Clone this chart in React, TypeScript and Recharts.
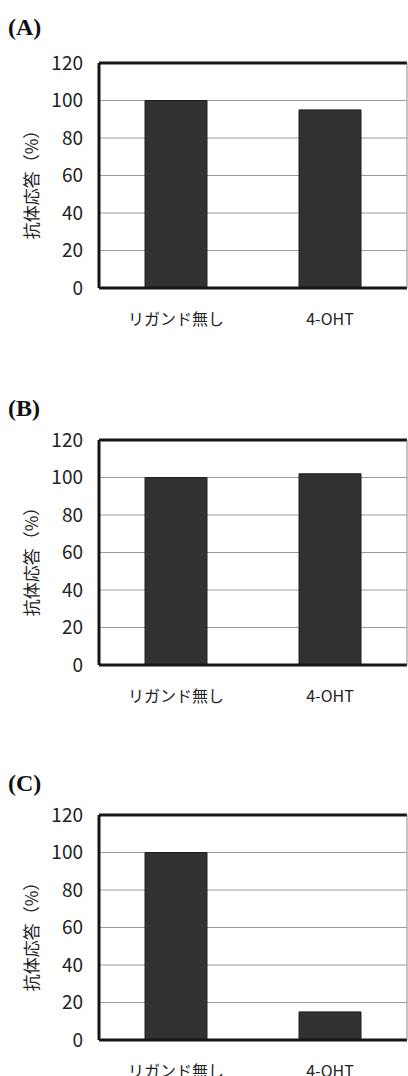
import { BarChart, Bar, XAxis, YAxis, CartesianGrid, ReferenceLine } from "recharts";

const categories = ["リガンド無し", "4-OHT"];
const panelNames = ["(A)", "(B)", "(C)"];
const valuesA = [100, 95];
const valuesB = [100, 102];
const valuesC = [100, 15];
const yTicks = [0, 20, 40, 60, 80, 100, 120];
const yLabel = "抗体応答（%）";

const FONT = "'Noto Sans CJK JP', 'Noto Sans', sans-serif";

function Panel({
  name,
  values,
  plotTop,
  nameTop,
}: {
  name: string;
  values: number[];
  plotTop: number;
  nameTop: number;
}) {
  const data = categories.map((c, i) => ({ name: c, value: values[i] }));
  return (
    <>
      <div
        style={{
          position: "absolute",
          left: 8,
          top: nameTop,
          fontFamily: "'Liberation Serif', serif",
          fontWeight: "bold",
          fontSize: 24,
          lineHeight: "24px",
          color: "#111",
        }}
      >
        {name}
      </div>
      <div style={{ position: "absolute", left: 0, top: plotTop - 20 }}>
        <BarChart
          width={408}
          height={305}
          data={data}
          margin={{ top: 20, right: 0, bottom: 0, left: 0 }}
          barSize={62}
        >
          <CartesianGrid vertical={false} stroke="#9a9a9a" strokeWidth={1} />
          <XAxis
            dataKey="name"
            height={60}
            tickLine={false}
            tickSize={0}
            tickMargin={26}
            axisLine={{ stroke: "#151515", strokeWidth: 3 }}
            tick={{ fill: "#222", fontSize: 16, fontFamily: FONT }}
          />
          <YAxis
            width={99}
            domain={[0, 120]}
            ticks={yTicks}
            interval={0}
            tickLine={false}
            tickSize={0}
            tickMargin={16}
            axisLine={{ stroke: "#151515", strokeWidth: 3 }}
            tick={{ fill: "#222", fontSize: 19, fontFamily: FONT }}
            label={{
              content: (props: any) => {
                const vb = props.viewBox || { y: 0, height: 0 };
                const cx = 30;
                const cy = vb.y + vb.height / 2 + 5;
                return (
                  <text
                    x={cx}
                    y={cy}
                    transform={`rotate(-90 ${cx} ${cy})`}
                    textAnchor="middle"
                    dominantBaseline="central"
                    fill="#222"
                    fontSize={17}
                    fontFamily={FONT}
                  >
                    {yLabel}
                  </text>
                );
              },
            }}
          />
          <YAxis
            yAxisId="right"
            orientation="right"
            width={1}
            domain={[0, 120]}
            tick={false}
            tickLine={false}
            axisLine={{ stroke: "#8a8a8a", strokeWidth: 1 }}
          />
          <ReferenceLine y={120} stroke="#151515" strokeWidth={3} />
          <Bar
            dataKey="value"
            fill="#2f3231"
            stroke="#1e201f"
            strokeWidth={1}
            isAnimationActive={false}
          />
        </BarChart>
      </div>
    </>
  );
}

export default function App() {
  return (
    <div
      style={{
        position: "absolute",
        left: 0,
        top: 0,
        width: 408,
        height: 1076,
        overflow: "hidden",
        background: "#fff",
      }}
    >
      <Panel name={panelNames[0]} values={valuesA} plotTop={63} nameTop={15} />
      <Panel name={panelNames[1]} values={valuesB} plotTop={440} nameTop={396} />
      <Panel name={panelNames[2]} values={valuesC} plotTop={815} nameTop={771} />
    </div>
  );
}
